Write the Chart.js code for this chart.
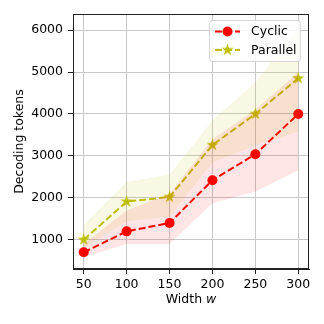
<!DOCTYPE html>
<html>
<head>
<meta charset="utf-8">
<script src="https://cdn.jsdelivr.net/npm/chart.js@4"></script>
<style>
  html, body { margin: 0; padding: 0; background: #fff; }
  canvas { display: block; }
</style>
</head>
<body>
<canvas id="chart" width="324" height="324"></canvas>
<script>
// data
const widths = [50, 100, 150, 200, 250, 300];
const cyclicMean = [700, 1200, 1400, 2420, 3040, 4000];
const cyclicLow = [580, 900, 900, 1870, 2150, 2650];
const cyclicHigh = [900, 1700, 2100, 3400, 4100, 5000];
const parallelMean = [1000, 1910, 2020, 3260, 4000, 4850];
const parallelLow = [800, 1450, 1550, 2850, 3250, 3580];
const parallelHigh = [1350, 2380, 2550, 3850, 4750, 6050];
const xTicks = [50, 100, 150, 200, 250, 300];
const yTicks = [1000, 2000, 3000, 4000, 5000, 6000];
const seriesNames = ['Cyclic', 'Parallel'];

const RED = '#ff0000';
const OLIVE = '#bfbf00';
const FONT = '"DejaVu Sans", sans-serif';
const FS = 12.5;

const pts = (ys) => widths.map((x, i) => ({ x: x, y: ys[i] }));

// filled five-point star like matplotlib's '*'
function makeStar(color, r) {
    const c = document.createElement('canvas');
    const s = Math.ceil(r * 2 + 2);
    c.width = s; c.height = s;
    const g = c.getContext('2d');
    g.fillStyle = color;
    g.beginPath();
    for (let i = 0; i < 10; i++) {
        const rad = i % 2 === 0 ? r : r * 0.38;
        const a = -Math.PI / 2 + i * Math.PI / 5;
        const px = s / 2 + rad * Math.cos(a), py = s / 2 + rad * Math.sin(a);
        if (i === 0) g.moveTo(px, py); else g.lineTo(px, py);
    }
    g.closePath();
    g.fill();
    return c;
}
const star = makeStar(OLIVE, 6.5);

function band(data, color, fillTo) {
    return {
        data: data,
        borderWidth: 0,
        pointRadius: 0,
        backgroundColor: color,
        fill: fillTo
    };
}

// frame, legend and italic x title
const extras = {
    id: 'extras',
    afterDraw(chart) {
        const ctx = chart.ctx;
        const a = chart.chartArea;
        ctx.save();
        ctx.strokeStyle = '#222';
        ctx.lineWidth = 1;
        ctx.strokeRect(Math.round(a.left) + 0.5, Math.round(a.top) + 0.5,
            Math.round(a.right - a.left) - 1, Math.round(a.bottom - a.top) - 1);

        // legend box
        const bx = 209.5, by = 20.5, bw = 91, bh = 41, r = 3;
        ctx.beginPath();
        ctx.moveTo(bx + r, by);
        ctx.arcTo(bx + bw, by, bx + bw, by + bh, r);
        ctx.arcTo(bx + bw, by + bh, bx, by + bh, r);
        ctx.arcTo(bx, by + bh, bx, by, r);
        ctx.arcTo(bx, by, bx + bw, by, r);
        ctx.closePath();
        ctx.fillStyle = 'rgba(255,255,255,0.8)';
        ctx.fill();
        ctx.strokeStyle = 'rgba(204,204,204,0.8)';
        ctx.stroke();

        const rows = [31.5, 50];
        const colors = [RED, OLIVE];
        ctx.font = FS + 'px ' + FONT;
        ctx.textBaseline = 'middle';
        rows.forEach((y, i) => {
            ctx.strokeStyle = colors[i];
            ctx.lineWidth = 2;
            ctx.setLineDash([7, 3]);
            ctx.beginPath();
            ctx.moveTo(215, y);
            ctx.lineTo(240, y);
            ctx.stroke();
            ctx.setLineDash([]);
            if (i === 0) {
                ctx.fillStyle = RED;
                ctx.beginPath();
                ctx.arc(227.5, y, 5, 0, Math.PI * 2);
                ctx.fill();
            } else {
                ctx.drawImage(star, 227.5 - star.width / 2, y - star.height / 2);
            }
            ctx.fillStyle = '#000';
            ctx.textAlign = 'left';
            ctx.fillText(seriesNames[i], 251, y + 0.5);
        });

        // x title with italic w
        const t1 = 'Width ', t2 = 'w';
        ctx.font = FS + 'px ' + FONT;
        const w1 = ctx.measureText(t1).width;
        ctx.font = 'italic ' + FS + 'px ' + FONT;
        const w2 = ctx.measureText(t2).width;
        const cx = (a.left + a.right) / 2;
        const x0 = cx - (w1 + w2) / 2;
        ctx.fillStyle = '#000';
        ctx.textAlign = 'left';
        ctx.textBaseline = 'middle';
        ctx.font = FS + 'px ' + FONT;
        ctx.fillText(t1, x0, 300);
        ctx.font = 'italic ' + FS + 'px ' + FONT;
        ctx.fillText(t2, x0 + w1, 300);
        ctx.restore();
    }
};

new Chart(document.getElementById('chart').getContext('2d'), {
    type: 'line',
    data: {
        datasets: [
            band(pts(cyclicHigh), 'rgba(255,0,0,0.1)', 1),
            band(pts(cyclicLow), 'rgba(0,0,0,0)', false),
            {
                label: seriesNames[0],
                data: pts(cyclicMean),
                borderColor: RED,
                borderWidth: 2,
                borderDash: [7, 3],
                pointRadius: 5,
                pointBackgroundColor: RED,
                pointBorderColor: RED,
                pointBorderWidth: 0,
                fill: false,
                order: 1
            },
            band(pts(parallelHigh), 'rgba(191,191,0,0.1)', 4),
            band(pts(parallelLow), 'rgba(0,0,0,0)', false),
            {
                label: seriesNames[1],
                data: pts(parallelMean),
                borderColor: OLIVE,
                borderWidth: 2,
                borderDash: [7, 3],
                pointStyle: star,
                pointRadius: 6,
                fill: false,
                order: 0
            }
        ]
    },
    options: {
        responsive: false,
        animation: false,
        layout: { padding: { top: 14, right: 15, left: 0, bottom: 0 } },
        plugins: {
            legend: { display: false },
            tooltip: { enabled: false }
        },
        scales: {
            x: {
                type: 'linear',
                min: 37.5,
                max: 312.5,
                afterBuildTicks: (s) => { s.ticks = xTicks.map(v => ({ value: v })); },
                afterFit: (s) => { s.height = 55; },
                grid: { color: '#c8c8c8', tickColor: '#222', tickLength: 5, lineWidth: 1 },
                border: { color: '#222', width: 1 },
                ticks: { color: '#000', padding: 3, font: { family: FONT, size: FS }, callback: (v) => String(v) }
            },
            y: {
                min: 302,
                max: 6385,
                afterBuildTicks: (s) => { s.ticks = yTicks.map(v => ({ value: v })); },
                afterFit: (s) => { s.width = 73; },
                grid: { color: '#c8c8c8', tickColor: '#222', tickLength: 5, lineWidth: 1 },
                border: { color: '#222', width: 1 },
                ticks: { color: '#000', padding: 5, font: { family: FONT, size: FS }, callback: (v) => String(v) },
                title: {
                    display: true,
                    text: 'Decoding tokens',
                    color: '#000',
                    padding: { top: 12, bottom: 0 },
                    font: { family: FONT, size: FS }
                }
            }
        }
    },
    plugins: [extras]
});
</script>
</body>
</html>
